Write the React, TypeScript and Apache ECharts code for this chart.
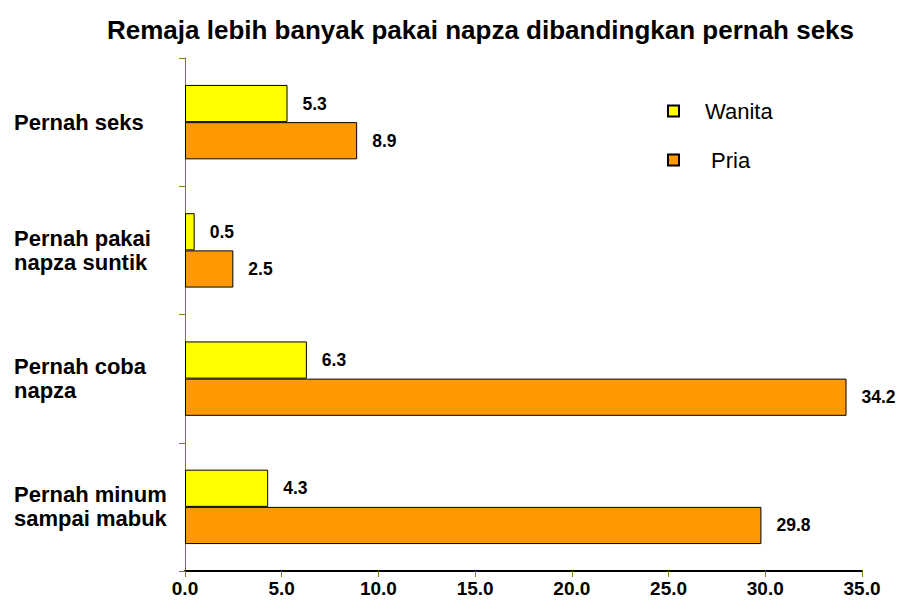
import React, { useEffect, useRef } from "react";
import * as echarts from "echarts";

const categories = [
  "Pernah minum\nsampai mabuk",
  "Pernah coba\nnapza",
  "Pernah pakai\nnapza suntik",
  "Pernah seks",
];
const wanita = [4.3, 6.3, 0.5, 5.3];
const pria = [29.8, 34.2, 2.5, 8.9];
const seriesNames = ["Wanita", "Pria"];
const title = "Remaja lebih banyak pakai napza dibandingkan pernah seks";

const FONT = "'Liberation Sans', Arial, sans-serif";
const OLIVE = "#808000";

export default function App() {
  const ref = useRef<HTMLDivElement>(null);
  useEffect(() => {
    document.body.style.margin = "0";
    const chart = echarts.init(ref.current!, null, { renderer: "svg" });
    const labelCfg = {
      show: true,
      position: "right",
      distance: 15,
      fontFamily: FONT,
      fontWeight: "bold",
      fontSize: 17.5,
      color: "#000",
      formatter: (p: any) => Number(p.value).toFixed(1),
    };
    chart.setOption({
      animation: false,
      backgroundColor: "#fff",
      title: {
        text: title,
        left: 102,
        top: 12,
        textStyle: { fontFamily: FONT, fontWeight: "bold", fontSize: 26, color: "#000" },
      },
      legend: {
        data: [
          { name: seriesNames[0], textStyle: { padding: [0, 0, 0, 21] } },
          { name: seriesNames[1], textStyle: { padding: [0, 0, 0, 27] } },
        ],
        orient: "vertical",
        left: 662,
        top: 95,
        itemWidth: 11,
        itemHeight: 11,
        itemGap: 27,
        icon: "rect",
        textStyle: { fontFamily: FONT, fontSize: 22, color: "#000" },
      },
      grid: { left: 185, right: 37, top: 58, bottom: 29, containLabel: false },
      xAxis: {
        type: "value",
        min: 0,
        max: 35,
        interval: 5,
        splitLine: { show: false },
        axisLine: { show: true, lineStyle: { color: "#000", width: 2 } },
        axisTick: { show: true, length: 6, lineStyle: { color: OLIVE, width: 1 } },
        axisLabel: {
          formatter: (v: number) => v.toFixed(1),
          fontFamily: FONT,
          fontWeight: "bold",
          fontSize: 19,
          color: "#000",
          margin: 8,
        },
      },
      yAxis: {
        type: "category",
        data: categories,
        axisLine: { show: true, lineStyle: { color: OLIVE, width: 1 } },
        axisTick: { show: true, length: 6, lineStyle: { color: OLIVE, width: 1 } },
        axisLabel: {
          align: "left",
          margin: 171,
          fontFamily: FONT,
          fontWeight: "bold",
          fontSize: 22,
          lineHeight: 24,
          color: "#000",
        },
      },
      series: [
        {
          name: "Wanita",
          type: "bar",
          data: wanita,
          barGap: "0%",
          barCategoryGap: "42%",
          itemStyle: { color: "#FFFF00", borderColor: "#000", borderWidth: 1 },
          label: labelCfg,
        },
        {
          name: "Pria",
          type: "bar",
          data: pria,
          barGap: "0%",
          barCategoryGap: "42%",
          itemStyle: { color: "#FF9900", borderColor: "#000", borderWidth: 1 },
          label: labelCfg,
        },
      ],
    });
    return () => chart.dispose();
  }, []);
  return <div ref={ref} style={{ width: 899, height: 600 }} />;
}
